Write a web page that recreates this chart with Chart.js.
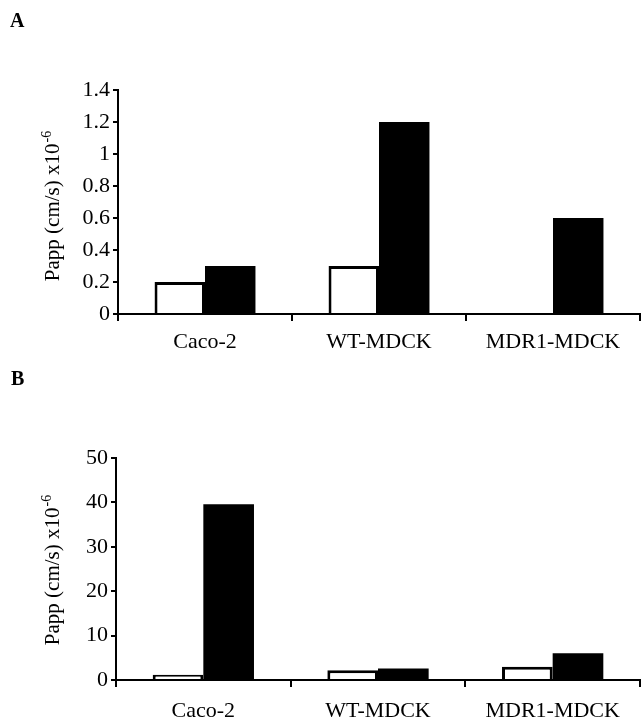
<!DOCTYPE html>
<html><head><meta charset="utf-8">
<script src="https://cdn.jsdelivr.net/npm/chart.js@4/dist/chart.umd.min.js"></script>
<style>
html,body{margin:0;padding:0;background:#fff;}
#wrap{position:relative;width:641px;height:719px;overflow:hidden;background:#fff}
canvas{position:absolute;left:0;display:block}
</style></head><body>
<div id="wrap">
<canvas id="chartA" width="641" height="360" style="top:0"></canvas>
<canvas id="chartB" width="641" height="359" style="top:360px"></canvas>
</div>
<script>
// ---- data ----
const categories = ['Caco-2', 'WT-MDCK', 'MDR1-MDCK'];
const openA  = [0.2, 0.3, 0];
const solidA = [0.3, 1.2, 0.6];
const yTicksA = [0, 0.2, 0.4, 0.6, 0.8, 1, 1.2, 1.4];
const openB  = [1.2, 2.2, 3.0];
const solidB = [39.6, 2.6, 6.0];
const yTicksB = [0, 10, 20, 30, 40, 50];
const yTitleMain = 'Papp (cm/s) x10';
const yTitleSup = '-6';
const panelA = 'A';
const panelB = 'B';

const FONT = '"Liberation Serif", "Times New Roman", serif';

function decorPlugin(letter, letterX, letterY, titleX, titleCY) {
  return {
    id: 'decor' + letter,
    afterDraw(chart) {
      const ctx = chart.ctx;
      ctx.save();
      ctx.fillStyle = '#000';
      ctx.font = 'bold 20px ' + FONT;
      ctx.textAlign = 'left';
      ctx.textBaseline = 'alphabetic';
      ctx.fillText(letter, letterX, letterY);
      ctx.translate(titleX, titleCY);
      ctx.rotate(-Math.PI / 2);
      ctx.font = '21px ' + FONT;
      const w1 = ctx.measureText(yTitleMain).width;
      ctx.font = '14px ' + FONT;
      const w2 = ctx.measureText(yTitleSup).width;
      const start = -(w1 + w2 + 1) / 2;
      ctx.font = '21px ' + FONT;
      ctx.fillText(yTitleMain, start, 0);
      ctx.font = '14px ' + FONT;
      ctx.fillText(yTitleSup, start + w1 + 1, -8);
      ctx.restore();
    }
  };
}

function makeChart(id, open, solid, yTicks, cfg) {
  return new Chart(document.getElementById(id), {
    type: 'bar',
    data: {
      labels: categories,
      datasets: [
        { data: open, backgroundColor: '#fff', borderColor: '#000', borderWidth: 3, borderSkipped: 'start' },
        { data: solid, backgroundColor: '#000', borderColor: '#000', borderWidth: 0 }
      ]
    },
    options: {
      responsive: false,
      animation: false,
      events: [],
      datasets: { bar: { categoryPercentage: 0.58, barPercentage: 1.0 } },
      layout: { padding: { top: cfg.top, right: 1, left: 0, bottom: 0 } },
      plugins: { legend: { display: false }, tooltip: { enabled: false }, title: { display: false } },
      scales: {
        x: {
          offset: true,
          grid: { display: true, offset: true, drawOnChartArea: false, drawTicks: true, tickLength: 7, color: '#000', lineWidth: 2 },
          border: { display: true, color: '#000', width: 2 },
          ticks: { color: '#000', font: { family: FONT, size: 22 }, padding: cfg.xPad, maxRotation: 0, autoSkip: false },
          afterFit: s => { s.height = cfg.xHeight; }
        },
        y: {
          min: yTicks[0], max: yTicks[yTicks.length - 1],
          grid: { display: true, drawOnChartArea: false, drawTicks: true, tickLength: 5, color: '#000', lineWidth: 2 },
          border: { display: true, color: '#000', width: 2 },
          ticks: { color: '#000', font: { family: FONT, size: 22 }, padding: 3, callback: v => String(v) },
          afterBuildTicks: s => { s.ticks = yTicks.map(v => ({ value: v })); },
          afterFit: s => { s.width = cfg.yWidth; }
        }
      }
    },
    plugins: [decorPlugin(cfg.letter, cfg.lx, cfg.ly, cfg.tx, cfg.tcy)]
  });
}

makeChart('chartA', openA, solidA, yTicksA,
  { top: 90, xHeight: 46, xPad: 8, yWidth: 118, letter: panelA, lx: 10, ly: 27, tx: 59, tcy: 206 });
makeChart('chartB', openB, solidB, yTicksB,
  { top: 98, xHeight: 39, xPad: 11, yWidth: 116, letter: panelB, lx: 11, ly: 25, tx: 59, tcy: 210 });
</script>
</body></html>
